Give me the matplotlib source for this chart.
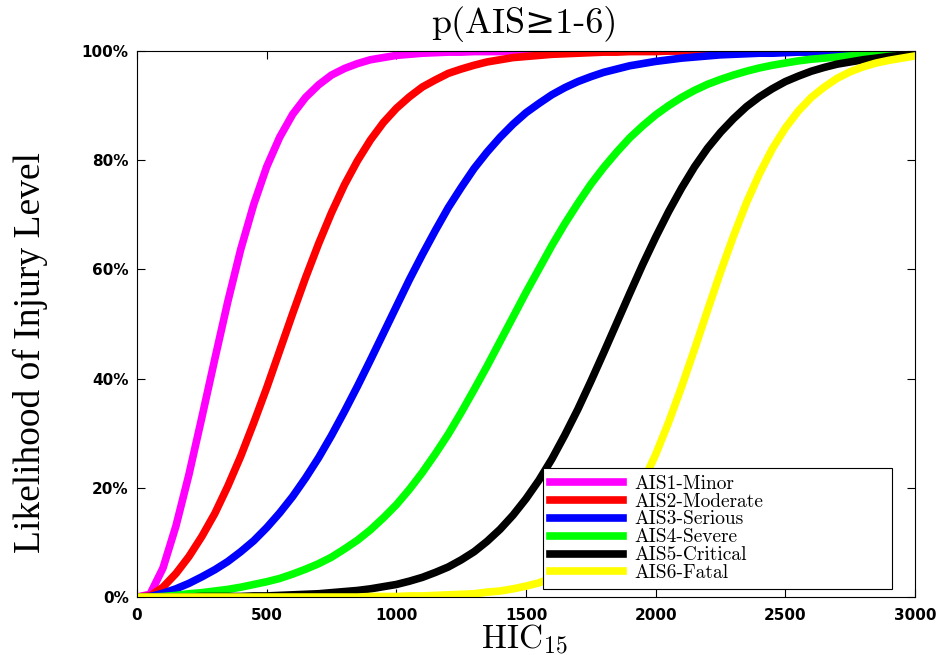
import matplotlib
matplotlib.use("Agg")
import matplotlib.pyplot as plt

plt.rcParams["mathtext.fontset"] = "cm"

# HIC15 values (x) and likelihood in percent for each AIS level
hic = [0, 50, 100, 150, 200, 250, 300, 350, 400, 450, 500, 550, 600, 650, 700,
       750, 800, 850, 900, 950, 1000, 1050, 1100, 1150, 1200, 1250, 1300, 1350,
       1400, 1450, 1500, 1550, 1600, 1650, 1700, 1750, 1800, 1850, 1900, 1950,
       2000, 2050, 2100, 2150, 2200, 2250, 2300, 2350, 2400, 2450, 2500, 2550,
       2600, 2650, 2700, 2750, 2800, 2850, 2900, 2950, 3000]

ais1 = [0, 0.5, 5.3, 13.0, 22.4, 32.9, 43.6, 54.1, 63.7, 71.9, 78.8, 84.2, 88.4,
        91.5, 93.8, 95.6, 96.8, 97.7, 98.4, 98.8, 99.2, 99.4, 99.6, 99.7, 99.8,
        99.8, 99.9, 99.9, 99.9, 100, 100, 100, 100, 100, 100, 100, 100, 100,
        100, 100, 100, 100, 100, 100, 100, 100, 100, 100, 100, 100, 100, 100,
        100, 100, 100, 100, 100, 100, 100, 100, 100]
ais2 = [0, 0.2, 1.8, 4.3, 7.4, 11.1, 15.3, 20.3, 25.8, 31.9, 38.3, 45.1, 51.9,
        58.5, 64.7, 70.4, 75.5, 79.9, 83.7, 86.9, 89.5, 91.6, 93.4, 94.7, 95.9,
        96.7, 97.4, 98.0, 98.4, 98.8, 99.0, 99.2, 99.4, 99.5, 99.6, 99.7, 99.8,
        99.8, 99.9, 99.9, 99.9, 100, 100, 100, 100, 100, 100, 100, 100, 100,
        100, 100, 100, 100, 100, 100, 100, 100, 100, 100, 100]
ais3 = [0, 0.1, 0.7, 1.5, 2.5, 3.7, 5.0, 6.5, 8.3, 10.3, 12.7, 15.4, 18.4, 21.8,
        25.5, 29.6, 34.0, 38.6, 43.4, 48.3, 53.2, 58.1, 62.7, 67.1, 71.3, 75.0,
        78.5, 81.5, 84.2, 86.6, 88.7, 90.4, 92.0, 93.3, 94.4, 95.3, 96.1, 96.7,
        97.3, 97.7, 98.1, 98.4, 98.7, 98.9, 99.1, 99.3, 99.4, 99.5, 99.6, 99.6,
        99.7, 99.8, 99.8, 99.8, 99.9, 99.9, 99.9, 99.9, 99.9, 100, 100]
ais4 = [0, 0.0, 0.1, 0.3, 0.6, 0.8, 1.1, 1.4, 1.8, 2.3, 2.8, 3.4, 4.2, 5.1, 6.1,
        7.3, 8.8, 10.4, 12.3, 14.5, 16.9, 19.7, 22.8, 26.2, 29.8, 33.8, 38.0,
        42.3, 46.8, 51.3, 55.8, 60.1, 64.4, 68.4, 72.1, 75.6, 78.7, 81.5, 84.1,
        86.3, 88.3, 90.0, 91.5, 92.8, 93.9, 94.8, 95.6, 96.3, 96.9, 97.4, 97.8,
        98.2, 98.5, 98.7, 98.9, 99.1, 99.2, 99.4, 99.5, 99.5, 99.6]
ais5 = [0, 0.0, 0.0, 0.0, 0.0, 0.1, 0.1, 0.1, 0.1, 0.2, 0.2, 0.3, 0.4, 0.5, 0.6,
        0.8, 1.0, 1.2, 1.5, 1.9, 2.3, 2.9, 3.6, 4.5, 5.5, 6.8, 8.3, 10.2, 12.4,
        15.0, 18.0, 21.4, 25.3, 29.7, 34.4, 39.5, 44.8, 50.2, 55.6, 60.9, 65.9,
        70.6, 74.9, 78.8, 82.2, 85.1, 87.6, 89.8, 91.6, 93.1, 94.4, 95.4, 96.3,
        97.0, 97.6, 98.0, 98.4, 98.7, 99.0, 99.2, 99.3]
ais6 = [0, 0.0, 0.0, 0.0, 0.0, 0.0, 0.0, 0.0, 0.0, 0.0, 0.0, 0.0, 0.0, 0.0, 0.0,
        0.0, 0.0, 0.0, 0.1, 0.1, 0.1, 0.2, 0.2, 0.3, 0.4, 0.5, 0.6, 0.9, 1.1,
        1.5, 2.0, 2.6, 3.5, 4.6, 6.0, 7.8, 10.2, 13.1, 16.7, 21.0, 26.1, 32.0,
        38.5, 45.4, 52.5, 59.5, 66.1, 72.2, 77.5, 82.1, 85.9, 89.0, 91.5, 93.4,
        95.0, 96.2, 97.1, 97.8, 98.3, 98.7, 99.1]

labels = ["AIS1-Minor", "AIS2-Moderate", "AIS3-Serious", "AIS4-Severe",
          "AIS5-Critical", "AIS6-Fatal"]
colors = ["#ff00ff", "#ff0000", "#0000ff", "#00ff00", "#000000", "#ffff00"]

xticks = [0, 500, 1000, 1500, 2000, 2500, 3000]
yticks = [0, 20, 40, 60, 80, 100]

fig = plt.figure(figsize=(9.47, 6.55), dpi=100)
ax = fig.add_axes([0.1447, 0.0885, 0.8215, 0.8336])

for y, c, lab in zip([ais1, ais2, ais3, ais4, ais5, ais6], colors, labels):
    ax.plot(hic, y, color=c, lw=5.5, label=lab, solid_joinstyle="round")

ax.set_xlim(0, 3000)
ax.set_ylim(0, 100)
ax.set_xticks(xticks)
ax.set_xticklabels([str(t) for t in xticks], fontweight="bold")
ax.set_yticks(yticks)
ax.set_yticklabels([f"{t}%" for t in yticks], fontweight="bold")
ax.tick_params(direction="in", length=6, width=0.8, top=True, right=True,
               labelsize=11)
ax.tick_params(axis="x", pad=7.8)
ax.tick_params(axis="y", pad=6)
for s in ax.spines.values():
    s.set_linewidth(0.8)
    s.set_color("black")

leg = ax.legend(loc="lower left", bbox_to_anchor=(0.522, 0.0146, 0.448, 0.2),
                mode="expand", prop={"family": "cmr10", "size": 14},
                handlelength=3.75, handletextpad=0.6, labelspacing=0.0,
                borderpad=0.35, borderaxespad=0, fancybox=False,
                framealpha=1, edgecolor="black")
leg.get_frame().set_linewidth(0.8)

fig.text(0.554, 0.9496, "p(AIS≥1-6)", family=["cmr10", "DejaVu Serif"],
         fontsize=26, ha="center", va="baseline")
fig.text(0.554, 1 - 648 / 655, r"$\mathrm{HIC}_{15}$", fontsize=24,
         ha="center", va="baseline")
fig.text(0.0317, 0.461, "Likelihood of Injury Level", rotation=90,
         family="Liberation Serif", fontsize=27, ha="center", va="center")

fig.savefig("out.png", dpi=100)
